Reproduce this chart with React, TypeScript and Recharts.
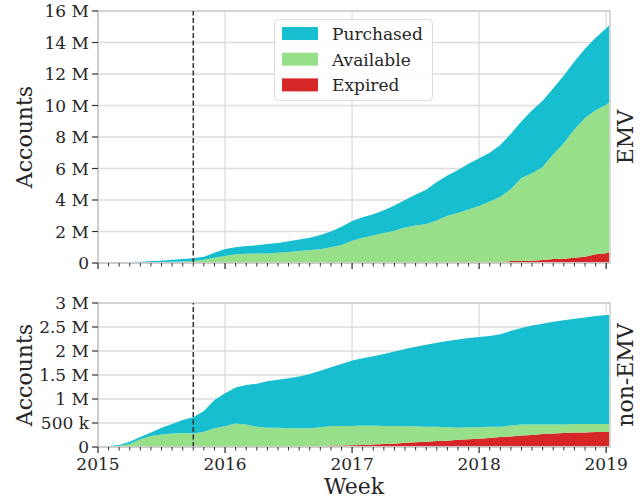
import { AreaChart, Area, XAxis, YAxis, CartesianGrid, ReferenceLine, ReferenceArea } from "recharts";

// monthly samples from Jan 2015 plus the last week shown (early Jan 2019)
const T = [...Array.from({ length: 49 }, (_, i) => 2015 + i / 12), 2019.024];
const MONTH_TICKS = Array.from({ length: 49 }, (_, i) => 2015 + i / 12);
const YEAR_TICKS = [2015, 2016, 2017, 2018, 2019];
const X_DOMAIN = [2015, 2019.03];
const LIABILITY_SHIFT = 2015.75;

// values in millions of accounts
const EMV_PURCHASED = [0, 0.005, 0.02, 0.04, 0.05, 0.08, 0.09, 0.12, 0.16, 0.18, 0.2, 0.32, 0.45, 0.45, 0.5, 0.52, 0.6, 0.62, 0.68, 0.74, 0.78, 0.91, 1.0, 1.15, 1.25, 1.3, 1.35, 1.45, 1.6, 1.75, 1.97, 2.17, 2.45, 2.55, 2.72, 2.9, 3.03, 3.1, 3.29, 3.5, 3.6, 4.0, 4.2, 4.2, 4.3, 4.3, 4.4, 4.6, 4.85, 4.9];
const EMV_AVAILABLE = [0, 0.005, 0.01, 0.02, 0.03, 0.05, 0.06, 0.08, 0.09, 0.12, 0.2, 0.33, 0.44, 0.55, 0.58, 0.6, 0.6, 0.65, 0.7, 0.76, 0.82, 0.87, 1.0, 1.15, 1.42, 1.6, 1.75, 1.9, 2.05, 2.25, 2.38, 2.48, 2.7, 2.98, 3.15, 3.37, 3.59, 3.87, 4.17, 4.58, 5.27, 5.55, 5.91, 6.65, 7.33, 8.17, 8.8, 9.15, 9.43, 9.5];
const EMV_EXPIRED = [0, 0, 0, 0, 0, 0, 0, 0, 0, 0, 0, 0, 0, 0, 0, 0, 0, 0, 0, 0, 0, 0, 0, 0, 0, 0, 0, 0, 0, 0, 0, 0, 0, 0.02, 0.03, 0.03, 0.03, 0.03, 0.04, 0.12, 0.13, 0.15, 0.19, 0.25, 0.27, 0.33, 0.4, 0.55, 0.62, 0.7];

const NON_PURCHASED = [0, 0.01, 0.02, 0.05, 0.05, 0.07, 0.14, 0.2, 0.27, 0.34, 0.43, 0.59, 0.69, 0.75, 0.82, 0.9, 0.97, 1.0, 1.04, 1.08, 1.13, 1.18, 1.22, 1.29, 1.36, 1.4, 1.44, 1.5, 1.55, 1.61, 1.66, 1.71, 1.75, 1.8, 1.84, 1.86, 1.88, 1.89, 1.93, 1.97, 2.01, 2.06, 2.1, 2.14, 2.17, 2.19, 2.22, 2.25, 2.27, 2.27];
const NON_AVAILABLE = [0, 0.01, 0.02, 0.06, 0.16, 0.23, 0.26, 0.28, 0.29, 0.28, 0.32, 0.39, 0.43, 0.49, 0.47, 0.42, 0.4, 0.4, 0.39, 0.39, 0.39, 0.4, 0.41, 0.41, 0.405, 0.41, 0.4, 0.38, 0.37, 0.34, 0.33, 0.31, 0.295, 0.28, 0.25, 0.25, 0.24, 0.23, 0.21, 0.23, 0.23, 0.22, 0.2, 0.19, 0.18, 0.18, 0.18, 0.17, 0.17, 0.17];
const NON_EXPIRED = [0, 0, 0, 0, 0, 0, 0, 0, 0, 0, 0, 0, 0, 0, 0, 0, 0, 0, 0, 0, 0, 0.01, 0.03, 0.03, 0.035, 0.04, 0.05, 0.06, 0.07, 0.09, 0.1, 0.11, 0.125, 0.13, 0.15, 0.16, 0.17, 0.19, 0.21, 0.22, 0.24, 0.25, 0.27, 0.28, 0.29, 0.3, 0.3, 0.31, 0.31, 0.31];

const EMV_Y_TICKS = [0, 2, 4, 6, 8, 10, 12, 14, 16];
const NON_Y_TICKS = [0, 0.5, 1, 1.5, 2, 2.5, 3];

const COLORS = { purchased: "#17becf", available: "#98df8a", expired: "#d62728" };
const FONT = "DejaVu Serif";
const INK = "#262626";

const emvData = T.map((t, i) => ({ t, purchased: EMV_PURCHASED[i], available: EMV_AVAILABLE[i], expired: EMV_EXPIRED[i] }));
const nonData = T.map((t, i) => ({ t, purchased: NON_PURCHASED[i], available: NON_AVAILABLE[i], expired: NON_EXPIRED[i] }));

const fmtEmv = (v: number) => (v === 0 ? "0" : `${v} M`);
const fmtNon = (v: number) => (v === 0 ? "0" : v < 1 ? `${v * 1000} k` : `${v} M`);

function MonthTick(props: any) {
  const { x, y, payload, showLabel } = props;
  const v = payload.value;
  const isYear = Math.abs(v - Math.round(v)) < 1e-6;
  return (
    <g>
      <line x1={x} x2={x} y1={y} y2={y + (isYear ? 6 : 3.5)} stroke="#333" strokeWidth={isYear ? 1.3 : 1} />
      {showLabel && isYear && (
        <text x={x} y={y + 11} dy="0.71em" textAnchor="middle" fill={INK} fontSize={17} fontFamily={FONT}>
          {Math.round(v)}
        </text>
      )}
    </g>
  );
}

function Panel({ data, height, top, xHeight, yMax, yTicks, fmt, showLabels }: any) {
  return (
    <AreaChart width={642} height={height} data={data} margin={{ top, right: 32, bottom: 0, left: 0 }}>
      <CartesianGrid stroke="#dddddd" strokeWidth={1.3} verticalValues={YEAR_TICKS} />
      <XAxis
        type="number"
        dataKey="t"
        domain={X_DOMAIN}
        ticks={MONTH_TICKS}
        interval={0}
        height={xHeight}
        tickSize={0}
        tickMargin={0}
        tickLine={false}
        axisLine={{ stroke: "#cccccc", strokeWidth: 1.5 }}
        tick={(p: any) => <MonthTick {...p} showLabel={showLabels} />}
        allowDataOverflow
      />
      <YAxis
        type="number"
        domain={[0, yMax]}
        ticks={yTicks}
        interval={0}
        width={98}
        tickSize={6}
        tickMargin={3}
        tickFormatter={fmt}
        tickLine={{ stroke: "#333", strokeWidth: 1.2 }}
        axisLine={{ stroke: "#cccccc", strokeWidth: 1.5 }}
        tick={{ fill: INK, fontSize: 17, fontFamily: FONT }}
      />
      <Area type="linear" dataKey="expired" stackId="s" stroke="none" fill={COLORS.expired} fillOpacity={1} isAnimationActive={false} />
      <Area type="linear" dataKey="available" stackId="s" stroke="none" fill={COLORS.available} fillOpacity={1} isAnimationActive={false} />
      <Area type="linear" dataKey="purchased" stackId="s" stroke="none" fill={COLORS.purchased} fillOpacity={1} isAnimationActive={false} />
      <ReferenceArea x1={X_DOMAIN[0]} x2={X_DOMAIN[1]} y1={0} y2={yMax} fillOpacity={0} stroke="#cccccc" strokeWidth={1.5} />
      <ReferenceLine x={LIABILITY_SHIFT} stroke="#333" strokeWidth={1.5} strokeDasharray="5 2.5" />
    </AreaChart>
  );
}

const LEGEND = [
  { name: "Purchased", color: COLORS.purchased },
  { name: "Available", color: COLORS.available },
  { name: "Expired", color: COLORS.expired },
];

export default function App() {
  return (
    <div style={{ position: "absolute", left: 0, top: 0, width: 642, height: 498, background: "#fff" }}>
      <div style={{ position: "absolute", left: 0, top: 0 }}>
        <Panel data={emvData} height={290} top={11} xHeight={27} yMax={16} yTicks={EMV_Y_TICKS} fmt={fmtEmv} showLabels={false} />
      </div>
      <div style={{ position: "absolute", left: 0, top: 290 }}>
        <Panel data={nonData} height={208} top={13} xHeight={51} yMax={3} yTicks={NON_Y_TICKS} fmt={fmtNon} showLabels />
      </div>
      <svg width={642} height={498} style={{ position: "absolute", left: 0, top: 0, pointerEvents: "none" }} fontFamily={FONT} fill={INK}>
        <text x={32} y={137} fontSize={22} textAnchor="middle" transform="rotate(-90 32 137)">Accounts</text>
        <text x={32} y={375} fontSize={22} textAnchor="middle" transform="rotate(-90 32 375)">Accounts</text>
        <text x={633} y={137} fontSize={22} textAnchor="middle" transform="rotate(-90 633 137)">EMV</text>
        <text x={633} y={375} fontSize={22} textAnchor="middle" transform="rotate(-90 633 375)">non-EMV</text>
        <text x={354} y={494} fontSize={22} textAnchor="middle">Week</text>
        <rect x={274.5} y={19.5} width={158} height={81} rx={4} fill="rgba(255,255,255,0.85)" stroke="#dcdcdc" strokeWidth={1} />
        {LEGEND.map((d, i) => (
          <g key={d.name}>
            <rect x={282} y={27 + i * 25.7} width={36} height={13} fill={d.color} />
            <text x={332} y={40 + i * 25.7} fontSize={17}>{d.name}</text>
          </g>
        ))}
      </svg>
    </div>
  );
}
